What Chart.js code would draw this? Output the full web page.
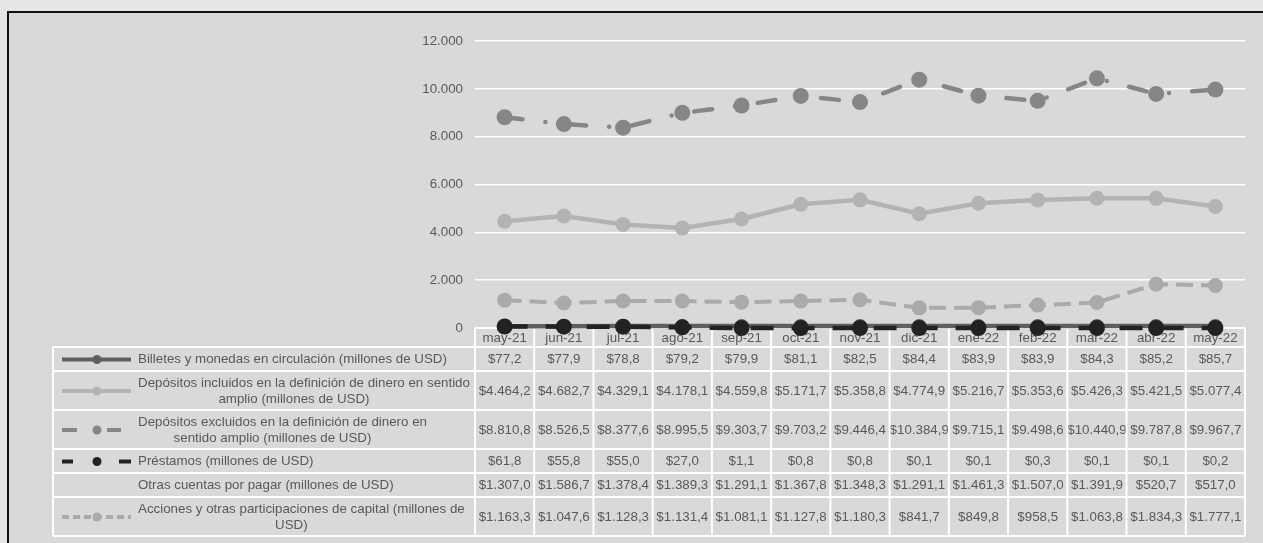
<!DOCTYPE html>
<html>
<head>
<meta charset="utf-8">
<script src="https://cdn.jsdelivr.net/npm/chart.js@4.4.1/dist/chart.umd.min.js"></script>
<style>
  html, body { margin: 0; padding: 0; background: #e6e6e6; overflow: hidden; }
  #wrap { width: 1263px; height: 543px; position: relative; }
</style>
</head>
<body>
<div id="wrap"><canvas id="c" width="1263" height="543"></canvas></div>
<script>
// ---------- DATA ----------
const categories = ['may-21','jun-21','jul-21','ago-21','sep-21','oct-21','nov-21','dic-21','ene-22','feb-22','mar-22','abr-22','may-22'];
const yTickValues = [0, 2000, 4000, 6000, 8000, 10000, 12000];

const billetes   = [77.2, 77.9, 78.8, 79.2, 79.9, 81.1, 82.5, 84.4, 83.9, 83.9, 84.3, 85.2, 85.7];
const incluidos  = [4464.2, 4682.7, 4329.1, 4178.1, 4559.8, 5171.7, 5358.8, 4774.9, 5216.7, 5353.6, 5426.3, 5421.5, 5077.4];
const excluidos  = [8810.8, 8526.5, 8377.6, 8995.5, 9303.7, 9703.2, 9446.4, 10384.9, 9715.1, 9498.6, 10440.9, 9787.8, 9967.7];
const prestamos  = [61.8, 55.8, 55.0, 27.0, 1.1, 0.8, 0.8, 0.1, 0.1, 0.3, 0.1, 0.1, 0.2];
const otras      = [1307.0, 1586.7, 1378.4, 1389.3, 1291.1, 1367.8, 1348.3, 1291.1, 1461.3, 1507.0, 1391.9, 520.7, 517.0];
const acciones   = [1163.3, 1047.6, 1128.3, 1131.4, 1081.1, 1127.8, 1180.3, 841.7, 849.8, 958.5, 1063.8, 1834.3, 1777.1];

const seriesLabels = [
  ['Billetes y monedas en circulación (millones de USD)'],
  ['Depósitos incluidos en la definición de dinero en sentido', 'amplio (millones de USD)'],
  ['Depósitos excluidos en la definición de dinero en', 'sentido amplio (millones de USD)'],
  ['Préstamos (millones de USD)'],
  ['Otras cuentas por pagar (millones de USD)'],
  ['Acciones y otras participaciones de capital (millones de', 'USD)']
];
const seriesValues = [billetes, incluidos, excluidos, prestamos, otras, acciones];

// ---------- STYLES ----------
const styles = [
  { color: '#5f5f5f', width: 4.5, dash: [], cap: 'butt', r: 7, order: 1, legendDash: [] },
  { color: '#b3b3b3', width: 4.5, dash: [], cap: 'butt', r: 7.5, order: 4, legendDash: [] },
  { color: '#868686', width: 4.5, dash: [18, 23, 0, 23], cap: 'round', r: 8, order: 3, legendDash: [15, 30, 14, 40] },
  { color: '#222222', width: 4.5, dash: [23, 18], cap: 'butt', r: 8, order: 0, legendDash: [11, 46, 12, 40] },
  { color: 'rgba(0,0,0,0)', width: 0, dash: [], cap: 'butt', r: 0, order: 5, legendDash: null },
  { color: '#aaaaaa', width: 4, dash: [17, 8], cap: 'butt', r: 7.5, order: 2, legendDash: [7, 4] }
];

function fmtThousands(v, dec) {
  const neg = v < 0; v = Math.abs(v);
  let s = v.toFixed(dec);
  let [ip, dp] = s.split('.');
  ip = ip.replace(/\B(?=(\d{3})+(?!\d))/g, '.');
  return (neg ? '-' : '') + ip + (dp ? ',' + dp : '');
}
function fmtMoney(v) { return '$' + fmtThousands(v, 1); }

const FONT = '13.33px "Liberation Sans", Arial, sans-serif';
const TEXT = '#595959';

const tablePlugin = {
  id: 'dataTable',
  beforeDraw(chart) {
    const ctx = chart.ctx, W = chart.width, H = chart.height;
    ctx.save();
    ctx.fillStyle = '#e6e6e6'; ctx.fillRect(0, 0, W, H);
    ctx.fillStyle = '#d9d9d9'; ctx.fillRect(8, 12, W, H);
    ctx.fillStyle = '#111111';
    ctx.fillRect(7, 11, 2, H);
    ctx.fillRect(7, 11, W, 2);
    ctx.restore();
  },
  beforeDatasetsDraw(chart) {
    const ctx = chart.ctx, x = chart.scales.x, area = chart.chartArea;
    const n = categories.length;
    const cw = (area.right - area.left) / n;
    const top = area.bottom;
    const headerH = 19;
    const labelLeft = 53, textLeft = 138;
    const rowHs = seriesLabels.map(l => l.length > 1 ? 39 : 24);
    const rowTops = [];
    let yy = top + headerH;
    rowHs.forEach(h => { rowTops.push(yy); yy += h; });
    const bottom = yy;

    ctx.save();
    ctx.font = FONT;
    ctx.fillStyle = TEXT;
    ctx.textBaseline = 'middle';
    ctx.textAlign = 'center';
    // header
    categories.forEach((c, i) => {
      ctx.fillText(c, x.getPixelForValue(i), top + headerH / 2 + 0.5);
    });
    // rows
    seriesValues.forEach((vals, r) => {
      const cy = rowTops[r] + rowHs[r] / 2 + 0.5;
      ctx.textAlign = 'center';
      ctx.fillStyle = TEXT;
      vals.forEach((v, i) => ctx.fillText(fmtMoney(v), x.getPixelForValue(i), cy));
      // label
      const lines = seriesLabels[r];
      const widths = lines.map(l => ctx.measureText(l).width);
      const bw = Math.max(...widths);
      lines.forEach((l, k) => {
        const ly = cy + (k - (lines.length - 1) / 2) * 16;
        if (k === 0) { ctx.textAlign = 'left'; ctx.fillText(l, textLeft, ly); }
        else { ctx.textAlign = 'center'; ctx.fillText(l, textLeft + bw / 2 - 10, ly); }
      });
      // legend key
      const st = styles[r];
      if (st.legendDash) {
        ctx.save();
        ctx.strokeStyle = st.color;
        ctx.lineWidth = 4;
        ctx.lineCap = 'butt';
        ctx.setLineDash(st.legendDash);
        ctx.beginPath();
        ctx.moveTo(62, cy); ctx.lineTo(131, cy);
        ctx.stroke();
        ctx.setLineDash([]);
        ctx.fillStyle = st.color;
        ctx.beginPath();
        ctx.arc(97, cy, 4.5, 0, Math.PI * 2);
        ctx.fill();
        ctx.restore();
      }
    });
    // grid lines of table
    ctx.strokeStyle = '#ffffff';
    ctx.lineWidth = 2;
    ctx.beginPath();
    ctx.moveTo(area.left, top); ctx.lineTo(area.right, top);
    rowTops.forEach(t => { ctx.moveTo(labelLeft, t); ctx.lineTo(area.right, t); });
    ctx.moveTo(labelLeft, bottom); ctx.lineTo(area.right, bottom);
    ctx.moveTo(labelLeft, top + headerH); ctx.lineTo(labelLeft, bottom);
    for (let i = 0; i <= n; i++) {
      const px = area.left + i * cw;
      ctx.moveTo(px, top); ctx.lineTo(px, bottom);
    }
    ctx.stroke();
    ctx.restore();
  }
};

const datasets = seriesValues.map((vals, i) => ({
  label: seriesLabels[i].join(' '),
  data: vals,
  borderColor: styles[i].color,
  backgroundColor: styles[i].color,
  borderWidth: styles[i].width,
  borderDash: styles[i].dash,
  borderCapStyle: styles[i].cap,
  pointRadius: styles[i].r,
  pointBorderWidth: 0,
  pointBackgroundColor: styles[i].color,
  pointHoverRadius: styles[i].r,
  tension: 0,
  fill: false,
  clip: false,
  order: styles[i].order
}));

Chart.defaults.font.family = '"Liberation Sans", Arial, sans-serif';
Chart.defaults.font.size = 13.33;
Chart.defaults.color = TEXT;

new Chart(document.getElementById('c'), {
  type: 'line',
  data: { labels: categories, datasets },
  options: {
    responsive: false,
    animation: false,
    events: [],
    layout: { padding: { left: 0, top: 41, right: 18, bottom: 215 } },
    plugins: { legend: { display: false }, tooltip: { enabled: false } },
    scales: {
      x: { type: 'category', offset: true, display: false },
      y: {
        min: 0, max: 12000,
        afterFit(s) { s.width = 475; },
        afterBuildTicks(s) { s.ticks = yTickValues.map(v => ({ value: v })); },
        border: { display: false },
        grid: { color: '#ffffff', lineWidth: 1.5, drawTicks: false },
        ticks: { padding: 12, color: TEXT, callback: v => fmtThousands(v, 0) }
      }
    }
  },
  plugins: [tablePlugin]
});
</script>
</body>
</html>
